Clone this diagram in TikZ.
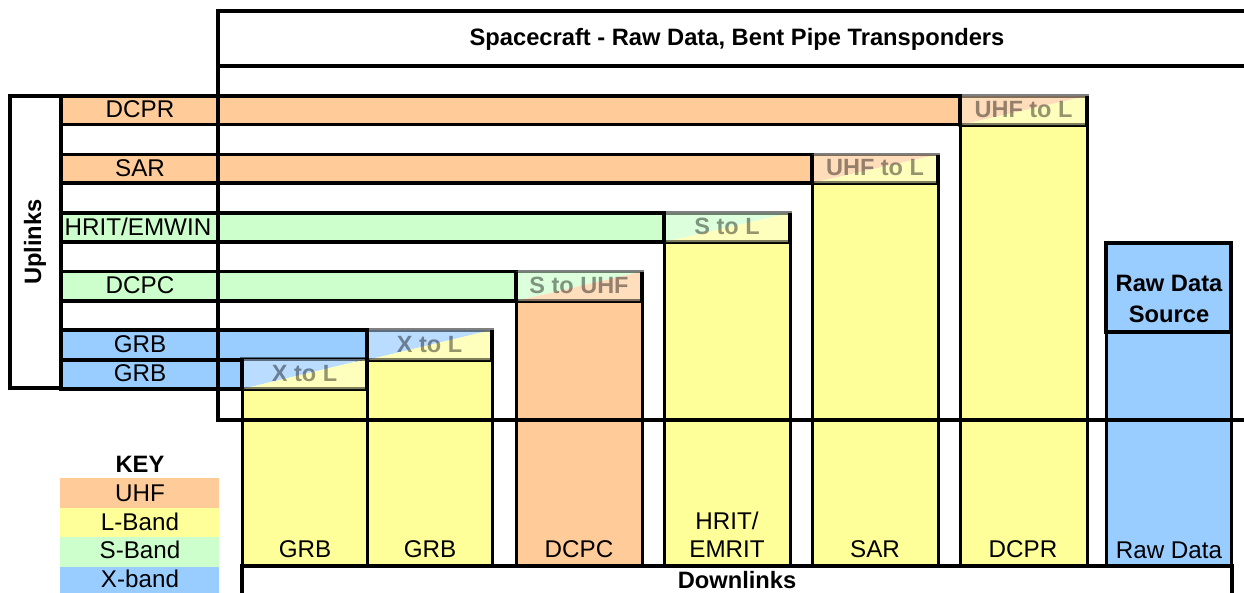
\documentclass[tikz,border=0pt]{standalone}
\usepackage{fontspec}
\setmainfont{Liberation Sans}
\definecolor{uhf}{HTML}{FFCC99}
\definecolor{lband}{HTML}{FFFF99}
\definecolor{sband}{HTML}{CCFFCC}
\definecolor{xband}{HTML}{99CCFF}
\tikzset{
  lbl/.style={font=\fontsize{24.2}{27}\selectfont, inner sep=0pt, anchor=base},
  blbl/.style={font=\fontsize{23.7}{27}\selectfont\bfseries, inner sep=0pt, anchor=base},
  convlbl/.style={font=\fontsize{23.5}{27}\selectfont\bfseries, inner sep=0pt, anchor=base, text=black, text opacity=0.42},
  heavy/.style={line width=4pt},
  colbox/.style={draw=black, line width=3pt},
  stripbox/.style={draw=black, line width=3.5pt},
}
\newcommand\convbox[8]{%
  \fill[#5!68!white] (#1,#2) -- (#3,#2) -- (#1,#4) -- cycle;
  \fill[#6!65!white] (#3,#2) -- (#3,#4) -- (#1,#4) -- cycle;
  \draw[black, draw opacity=0.5, line width=3.5pt] (#1,#2) rectangle (#3,#4);
  \draw[black, line width=3.5pt] (#1,#2) -- (#1,#4) (#3,#2) -- (#3,#4);
  \node[convlbl] (#7) at ({(#1+#3)/2},{(#2+#4)/2+7}) {#8};
}
\begin{document}
\begin{tikzpicture}[x=1pt,y=-1pt]
\useasboundingbox (0,0) rectangle (1244,592);
\clip (0,0) rectangle (1244,592);

% downlink columns
\filldraw[fill=lband, colbox] (242,389) rectangle (367,566);
\filldraw[fill=lband, colbox] (367,360) rectangle (492,566);
\filldraw[fill=uhf, colbox] (516,301) rectangle (642,566);
\filldraw[fill=lband, colbox] (664,242) rectangle (790,566);
\filldraw[fill=lband, colbox] (812,183) rectangle (938,566);
\filldraw[fill=lband, colbox] (960,125) rectangle (1087,566);
\filldraw[fill=xband, colbox] (1106,332) rectangle (1231,566);

% uplink strips
\filldraw[fill=uhf, stripbox] (61,96) rectangle (960,124.5);
\filldraw[fill=uhf, stripbox] (61,154.5) rectangle (812,183);
\filldraw[fill=sband, stripbox] (61,213) rectangle (664,242);
\filldraw[fill=sband, stripbox] (61,271.5) rectangle (516,301);
\filldraw[fill=xband, stripbox] (61,330) rectangle (367,360);
\filldraw[fill=xband, stripbox] (61,360) rectangle (242,389);

% converters
\convbox{242}{359}{367}{389}{xband}{lband}{c1}{X to L}
\convbox{367}{330}{492}{360}{xband}{lband}{c2}{X to L}
\convbox{516}{271.5}{642}{301}{sband}{uhf}{c3}{S to UHF}
\convbox{664}{213}{790}{242}{sband}{lband}{c4}{S to L}
\convbox{812}{154.5}{938}{183}{uhf}{lband}{c5}{UHF to L}
\convbox{960}{96}{1087}{125}{uhf}{lband}{c6}{UHF to L}

% raw data source
\filldraw[fill=xband, line width=4.5pt] (1106,243) rectangle (1231,332);
\node[blbl] (rds1) at (1169,291) {Raw Data};
\node[blbl] (rds2) at (1169,322) {Source};

% spacecraft frame
\draw[heavy] (1250,11) -- (218,11) -- (218,420) -- (1250,420);
\draw[heavy] (218,66) -- (1250,66);
\node[blbl] (title) at (737,45) {Spacecraft - Raw Data, Bent Pipe Transponders};

% uplinks box
\draw[heavy] (10,96) rectangle (61,388);
\node[font=\fontsize{23.7}{27}\selectfont\bfseries, inner sep=0pt, rotate=90] (up) at (35,242) {Uplinks};

% downlinks box
\draw[heavy] (242,600) -- (242,566) -- (1232,566) -- (1232,600);
\node[blbl] (down) at (737,588) {Downlinks};

% strip labels
\node[lbl] (u1) at (140,117) {DCPR};
\node[lbl] (u2) at (140,176) {SAR};
\node[lbl] (u3) at (138,235) {HRIT/EMWIN};
\node[lbl] (u4) at (140,293.5) {DCPC};
\node[lbl] (u5) at (140,352) {GRB};
\node[lbl] (u6) at (140,381) {GRB};

% column labels
\node[lbl] (d1) at (305,557) {GRB};
\node[lbl] (d2) at (430,557) {GRB};
\node[lbl] (d3) at (579,557) {DCPC};
\node[lbl] (d4a) at (727,529) {HRIT/};
\node[lbl] (d4b) at (727,557) {EMRIT};
\node[lbl] (d5) at (875,557) {SAR};
\node[lbl] (d6) at (1023,557) {DCPR};
\node[lbl] (d7) at (1169,558) {Raw Data};

% key
\node[blbl] (key) at (140,472) {KEY};
\fill[uhf] (60,478) rectangle (219,508);
\fill[lband] (60,508) rectangle (219,537);
\fill[sband] (60,537) rectangle (219,567);
\fill[xband] (60,567) rectangle (219,600);
\node[lbl] (k1) at (140,501) {UHF};
\node[lbl] (k2) at (140,530) {L-Band};
\node[lbl] (k3) at (140,558) {S-Band};
\node[lbl] (k4) at (140,587) {X-band};
\end{tikzpicture}
\end{document}
